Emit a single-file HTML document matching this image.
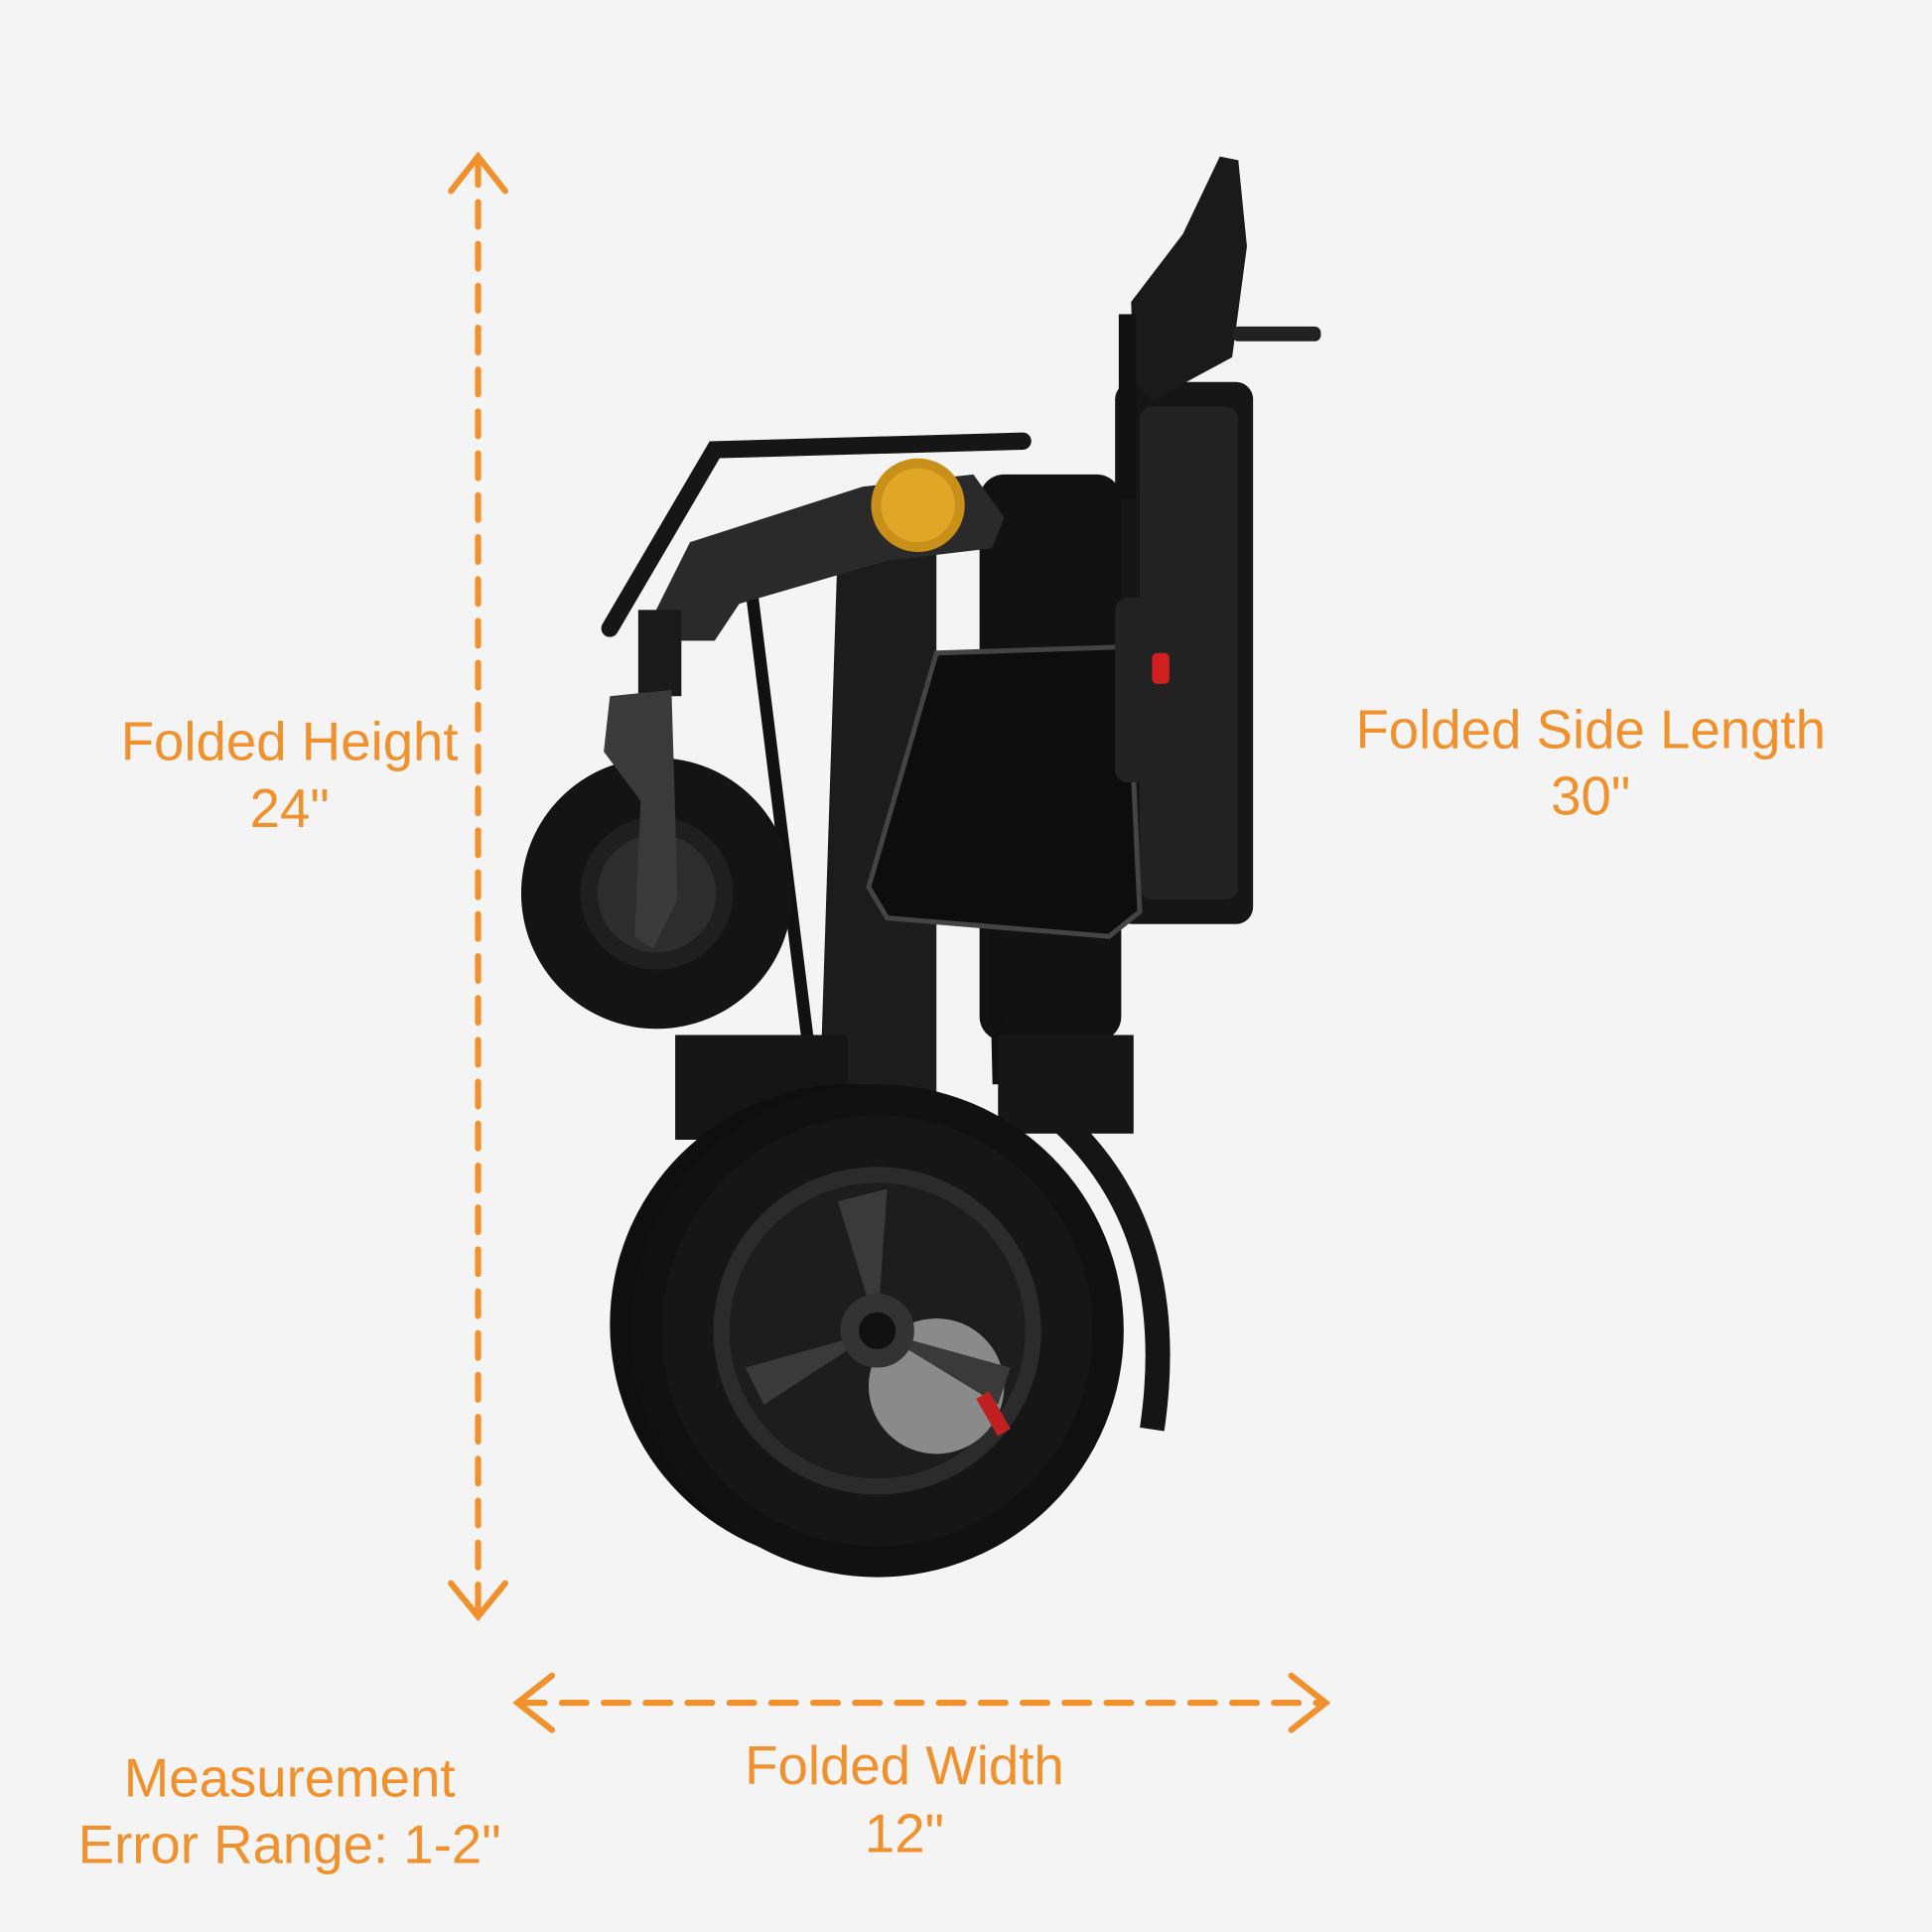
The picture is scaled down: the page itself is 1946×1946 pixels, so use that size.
<!DOCTYPE html>
<html><head><meta charset="utf-8"><style>
html,body{margin:0;padding:0;background:#f4f4f4;}
svg{display:block;}
text{font-family:"Liberation Sans",sans-serif;fill:#F0912E;font-size:44px;text-anchor:middle;}
</style></head><body>
<svg width="1946" height="1946" viewBox="0 0 1568 1568" xmlns="http://www.w3.org/2000/svg">
<rect width="1568" height="1568" fill="#f4f4f4"/>
<!-- dimension lines -->
<g stroke="#F0912E" stroke-width="5" fill="none" stroke-linecap="round">
<line x1="388" y1="130" x2="388" y2="1308" stroke-dasharray="20,14"/>
<polyline points="366,155 388,127 410,155"/>
<polyline points="366,1285 388,1312 410,1285"/>
<line x1="422" y1="1382" x2="1074" y2="1382" stroke-dasharray="20,14"/>
<polyline points="448,1360 420,1382 448,1404"/>
<polyline points="1048,1360 1076,1382 1048,1404"/>
</g>
<!-- wheelchair -->
<g>
<!-- seat back -->
<rect x="905" y="310" width="112" height="440" rx="14" fill="#161616"/>
<rect x="925" y="330" width="80" height="400" rx="10" fill="#222"/>
<!-- controller -->
<path d="M990,127 L1005,130 L1012,200 L1000,290 L935,325 L920,310 L918,245 L960,190 Z" fill="#1a1a1a"/>
<rect x="1000" y="265" width="72" height="12" rx="5" fill="#222"/>
<rect x="908" y="255" width="14" height="150" fill="#111"/>
<!-- cushion -->
<rect x="795" y="385" width="115" height="460" rx="20" fill="#121212"/>
<!-- column/frame -->
<polygon points="680,440 760,445 760,900 690,910 665,900" fill="#1c1c1c"/>
<line x1="610" y1="480" x2="660" y2="880" stroke="#111" stroke-width="10"/>
<line x1="800" y1="440" x2="810" y2="880" stroke="#111" stroke-width="9"/>
<rect x="548" y="840" width="140" height="85" fill="#151515"/>
<rect x="810" y="840" width="110" height="80" fill="#161616"/>
<!-- armrest -->
<path d="M495,510 L580,365 L830,358" stroke="#161616" stroke-width="14" fill="none" stroke-linecap="round"/>
<path d="M520,520 L560,440 L700,395 L790,385 L815,420 L805,445 L720,455 L600,490 L580,520 Z" fill="#2a2a2a"/>
<circle cx="745" cy="410" r="38" fill="#c99019"/>
<circle cx="745" cy="410" r="30" fill="#e0a628"/>
<!-- caster arm and wheel -->
<rect x="518" y="495" width="35" height="70" fill="#1a1a1a"/>
<circle cx="533" cy="725" r="110" fill="#141414"/>
<circle cx="533" cy="725" r="62" fill="#1f1f1f"/>
<circle cx="533" cy="725" r="48" fill="#2d2d2d"/>
<path d="M495,565 L545,560 L550,730 L530,770 L515,760 L520,650 L490,610 Z" fill="#3a3a3a"/>
<!-- side mesh panel -->
<path d="M760,530 L915,525 L925,740 L900,760 L720,745 L705,720 Z" fill="#0d0d0d" stroke="#444" stroke-width="4"/>
<rect x="905" y="485" width="60" height="150" rx="10" fill="#222"/>
<rect x="935" y="530" width="14" height="25" rx="4" fill="#d02020"/>
<!-- fender -->
<path d="M850,900 Q960,990 935,1160" stroke="#151515" stroke-width="20" fill="none"/>
<!-- rear wheels -->
<circle cx="690" cy="1075" r="195" fill="#0f0f0f"/>
<circle cx="712" cy="1080" r="200" fill="#111"/>
<circle cx="712" cy="1080" r="175" fill="#161616"/>
<circle cx="712" cy="1080" r="133" fill="#2b2b2b"/>
<circle cx="712" cy="1080" r="120" fill="#1d1d1d"/>
<circle cx="760" cy="1125" r="55" fill="#8a8a8a"/>
<path d="M712,1080 L680,975 L720,965 Z M712,1080 L620,1140 L605,1110 Z M712,1080 L820,1110 L810,1140 Z" fill="#3a3a3a"/>
<circle cx="712" cy="1080" r="30" fill="#333"/>
<circle cx="712" cy="1080" r="15" fill="#111"/>
<rect x="800" y="1130" width="12" height="35" fill="#c02020" transform="rotate(-30 806 1147)"/>
</g>
<!-- labels -->
<text x="235" y="617">Folded Height</text>
<text x="235" y="671">24"</text>
<text x="1291" y="607">Folded Side Length</text>
<text x="1291" y="661">30"</text>
<text x="734" y="1448">Folded Width</text>
<text x="734" y="1503">12"</text>
<text x="235" y="1458">Measurement</text>
<text x="235" y="1512">Error Range: 1-2"</text>
</svg>
</body></html>
